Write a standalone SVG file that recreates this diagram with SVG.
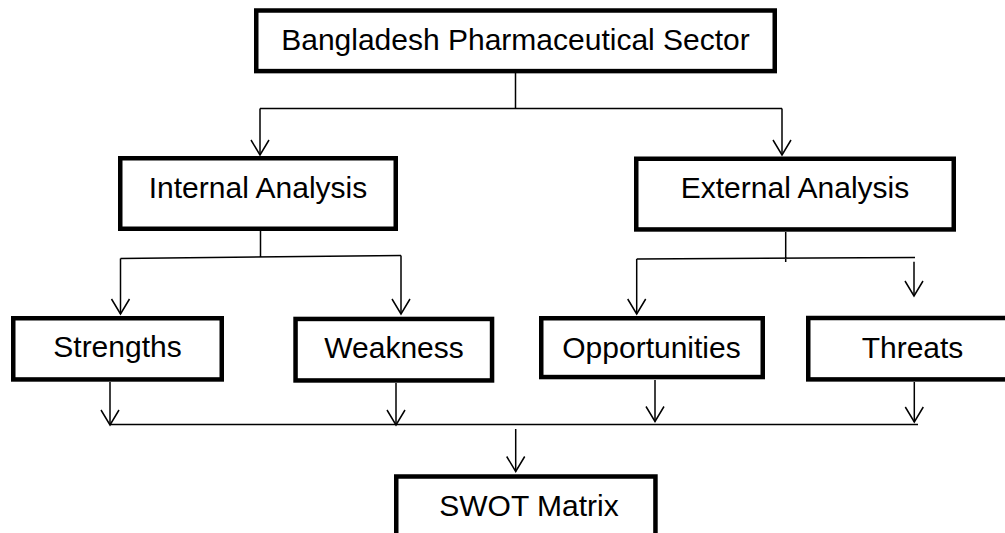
<svg xmlns="http://www.w3.org/2000/svg" width="1005" height="533" viewBox="0 0 1005 533">
<style>
.box{fill:#fff;stroke:#000;stroke-width:4.5}
.lbl{font-family:"Liberation Sans",Arial,sans-serif;font-size:30px;fill:#000;text-anchor:middle}
.ln{fill:none;stroke:#000;stroke-width:1.5}
.ar{fill:none;stroke:#000;stroke-width:1.5;marker-end:url(#v)}
</style>
<defs>
<marker id="v" markerUnits="userSpaceOnUse" markerWidth="20" markerHeight="22" refX="16" refY="10" orient="auto" overflow="visible">
<path d="M1,1 L16,10 L1,19" fill="none" stroke="#000" stroke-width="1.5"/>
</marker>
</defs>
<rect width="1005" height="533" fill="#fff"/>
<g id="connectors">
<path class="ln" d="M515.5,73 V108.5 M260,108.5 H782"/>
<path class="ar" d="M260,108.5 V155"/>
<path class="ar" d="M782,108.5 V155"/>
<path class="ln" d="M260.5,231 V257 M120.5,258.5 L401,255.5"/>
<path class="ar" d="M120.5,258.5 V314"/>
<path class="ar" d="M401,255.5 V314"/>
<path class="ln" d="M785.7,232 V262 M636.7,259 L915,257.5"/>
<path class="ar" d="M636.7,259 V314"/>
<path class="ar" d="M914,261.7 V296"/>
<path class="ar" d="M110,382 V425"/>
<path class="ar" d="M396,383 V425"/>
<path class="ar" d="M655,380 V421.5"/>
<path class="ar" d="M914.3,382 V422"/>
<path class="ln" d="M110,424.5 H918"/>
<path class="ar" d="M515.7,429 V471.5"/>
</g>
<g id="sector">
<rect class="box" x="256.25" y="10.5" width="518.5" height="60.6"/>
<text class="lbl" x="515.5" y="49.5">Bangladesh Pharmaceutical Sector</text>
</g>
<g id="internal">
<rect class="box" x="120.25" y="158.25" width="275.5" height="70.5"/>
<text class="lbl" x="258" y="198.3">Internal Analysis</text>
</g>
<g id="external">
<rect class="box" x="636.25" y="158.75" width="317.5" height="70.7"/>
<text class="lbl" x="795" y="198.3">External Analysis</text>
</g>
<g id="strengths">
<rect class="box" x="13.25" y="318.25" width="208.5" height="61.2"/>
<text class="lbl" x="117.5" y="357">Strengths</text>
</g>
<g id="weakness">
<rect class="box" x="295.55" y="318.95" width="196.5" height="61.5"/>
<text class="lbl" x="394" y="357.5">Weakness</text>
</g>
<g id="opportunities">
<rect class="box" x="541.25" y="318.25" width="221.5" height="58.8"/>
<text class="lbl" x="651.5" y="357.5">Opportunities</text>
</g>
<g id="threats">
<rect class="box" x="808.25" y="318" width="210" height="61.4"/>
<text class="lbl" x="912.5" y="358">Threats</text>
</g>
<g id="swot">
<rect class="box" x="396.25" y="476.5" width="259.2" height="80"/>
<text class="lbl" x="529" y="516">SWOT Matrix</text>
</g>
</svg>
